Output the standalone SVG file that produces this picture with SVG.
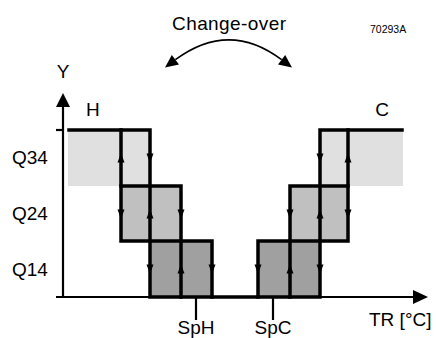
<svg xmlns="http://www.w3.org/2000/svg" width="436" height="338" viewBox="0 0 436 338">
<style>
text{font-family:"Liberation Sans",Arial,sans-serif;fill:#000}
.lbl{font-size:19px}
.thick{stroke:#000;stroke-width:3.5;fill:none;stroke-linecap:square}
.axis{stroke:#000;stroke-width:2.2;fill:none}
.l1{fill:#e0e0e0}.l2{fill:#c0c0c0}.l3{fill:#a0a0a0}
</style>
<defs>
<path id="au" d="M0,-5 L3.5,4.5 L-3.5,4.5 Z"/>
<path id="ad" d="M0,5 L3.5,-4.5 L-3.5,-4.5 Z"/>
</defs>
<rect width="436" height="338" fill="#fff"/>
<g id="fills">
<rect class="l1" x="68" y="130" width="82" height="56"/>
<rect class="l2" x="121" y="186" width="60" height="55"/>
<rect class="l3" x="150" y="241" width="62" height="56"/>
<rect class="l1" x="320" y="130" width="83" height="56"/>
<rect class="l2" x="290" y="186" width="58" height="55"/>
<rect class="l3" x="258" y="241" width="62" height="56"/>
</g>
<g id="connectors">
<line class="axis" x1="63" y1="298" x2="63" y2="106"/>
<path d="M63,93 L70,107 L56,107 Z"/>
<line class="axis" x1="56" y1="130" x2="63" y2="130"/>
<line class="axis" x1="56" y1="297" x2="414" y2="297"/>
<path d="M428,297 L413,290 L413,304 Z"/>
<line class="axis" x1="196" y1="297" x2="196" y2="320"/>
<line class="axis" x1="273" y1="297" x2="273" y2="320"/>
<path class="thick" d="M69,130 H150 V297 H320 V130 H402"/>
<path class="thick" d="M121,130 V241 H212 V297"/>
<path class="thick" d="M121,186 H181 V297"/>
<path class="thick" d="M348,130 V241 H258 V297"/>
<path class="thick" d="M348,186 H290 V297"/>
<use href="#au" x="121" y="158"/><use href="#ad" x="150" y="158"/>
<use href="#ad" x="121" y="214"/><use href="#au" x="150" y="214"/><use href="#ad" x="181" y="214"/>
<use href="#ad" x="150" y="269"/><use href="#au" x="181" y="269"/><use href="#ad" x="212" y="269"/>
<use href="#ad" x="320" y="158"/><use href="#au" x="348" y="158"/>
<use href="#ad" x="290" y="214"/><use href="#au" x="320" y="214"/><use href="#ad" x="348" y="214"/>
<use href="#ad" x="258" y="269"/><use href="#au" x="290" y="269"/><use href="#ad" x="320" y="269"/>
<path d="M175.4,59.7 Q229,20 281.6,59.7" fill="none" stroke="#000" stroke-width="1.6"/>
<path d="M165,67.5 L171.8,54.9 L179,64.5 Z"/>
<path d="M292,67.5 L285.2,54.9 L278,64.5 Z"/>
</g>
<g id="labels">
<text x="172" y="30" font-size="19" textLength="114" lengthAdjust="spacing">Change-over</text>
<text x="370" y="33" font-size="10.5">70293A</text>
<text class="lbl" x="63" y="78" text-anchor="middle">Y</text>
<text class="lbl" x="86" y="116">H</text>
<text class="lbl" x="382" y="116" text-anchor="middle">C</text>
<text class="lbl" x="12" y="164">Q34</text>
<text class="lbl" x="12" y="220">Q24</text>
<text class="lbl" x="12" y="276">Q14</text>
<text class="lbl" x="196" y="334" text-anchor="middle">SpH</text>
<text class="lbl" x="273" y="334" text-anchor="middle">SpC</text>
<text class="lbl" x="369" y="326">TR [°C]</text>
</g>
</svg>
